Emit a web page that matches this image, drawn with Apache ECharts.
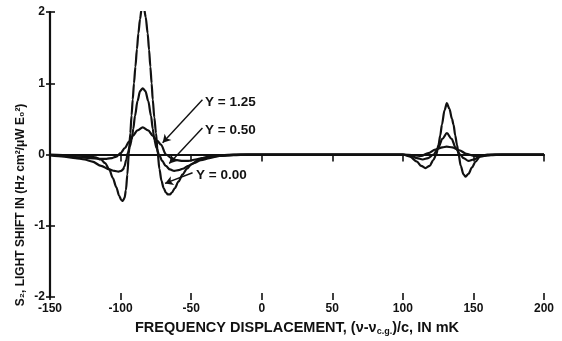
<!DOCTYPE html>
<html><head><meta charset="utf-8">
<script src="https://cdn.jsdelivr.net/npm/echarts@6/dist/echarts.min.js"></script>
<style>html,body{margin:0;padding:0;background:#fff}#c{width:562px;height:341px}</style>
</head><body><div id="c"></div>
<script>
// ---- data ----
const xTickLabels = ['-150','-100','-50','0','50','100','150','200'];
const yTickLabels = ['-2','-1','0','1','2'];

// Y = 0.00 curve
const y000X = [-150,-135,-125,-118,-114,-111,-108,-105.5,-103,-101,-99.5,-98.4,-97.2,-96.2,-95.2,-94.2,-93.1,-92.2,-91.4,-90.5,-89.5,-88.4,-87.4,-86.2,-85.2,-84.3,-83.3,-82.2,-80.8,-79.8,-78.9,-78.0,-77.2,-76.1,-74.9,-73.7,-72.5,-71,-69.5,-68,-66.5,-65,-63.5,-61.5,-59,-56,-53,-50,-46,-42,-36,-28,-20,0,95,
  100,105,110,113,116,119,121.5,123.7,125.3,126.5,127.7,129.5,131.2,133,134.8,135.9,137.1,138.3,139.5,141,143,144.5,146.5,149,151.5,155,160,200];
const y000Y = [0,-0.01,-0.02,-0.04,-0.07,-0.12,-0.21,-0.33,-0.46,-0.58,-0.64,-0.65,-0.61,-0.50,-0.28,0,0.30,0.55,0.77,1.00,1.23,1.48,1.70,1.90,2.03,2.07,2.04,1.93,1.70,1.47,1.23,1.00,0.77,0.52,0.30,0.02,-0.20,-0.37,-0.47,-0.53,-0.56,-0.56,-0.53,-0.47,-0.38,-0.28,-0.20,-0.14,-0.09,-0.05,-0.025,-0.01,0,0,0,
  0,-0.03,-0.10,-0.16,-0.19,-0.16,-0.08,0,0.14,0.27,0.42,0.62,0.72,0.64,0.50,0.42,0.27,0.14,0,-0.16,-0.28,-0.31,-0.27,-0.18,-0.10,-0.02,0,0];

// Y = 0.50 curve
const y050X = [-150,-140,-132,-125.6,-120,-113.8,-108,-104.4,-101.5,-99.6,-98.3,-97.3,-96,-94.9,-93.5,-92.1,-91,-89.8,-88,-86.2,-84.3,-82.4,-80.4,-78.4,-77.2,-76.1,-74.5,-72.8,-70.5,-68,-65,-62,-59,-56,-52,-48,-43,-37,-30,-20,-10,95,
  100,106,110,114,118,121.8,125,128,131.2,134.5,137.5,140.6,143,146.5,150,155,160,165,200];
const y050Y = [-0.01,-0.03,-0.05,-0.07,-0.10,-0.16,-0.21,-0.23,-0.24,-0.23,-0.21,-0.17,-0.08,0.02,0.11,0.21,0.36,0.54,0.75,0.89,0.93,0.89,0.75,0.54,0.36,0.21,0.09,0,-0.09,-0.16,-0.21,-0.23,-0.22,-0.20,-0.16,-0.12,-0.08,-0.05,-0.02,-0.01,0,0,
  0,-0.02,-0.05,-0.07,-0.05,0,0.09,0.22,0.30,0.22,0.09,0,-0.05,-0.09,-0.07,-0.03,-0.01,0,0];

// Y = 1.25 curve
const y125X = [-150,-140,-130,-122,-115,-110,-106,-103,-100,-97,-94,-91.4,-88,-84.3,-80.5,-77,-74,-71.4,-67.8,-64,-60,-56,-52,-47,-42,-35,-25,-15,95,
  100,108,113,118,123,128,131,135,140,145,150,155,162,170,200];
const y125Y = [-0.01,-0.02,-0.04,-0.05,-0.06,-0.06,-0.05,-0.03,0.02,0.09,0.18,0.26,0.34,0.38,0.34,0.26,0.19,0.14,0,-0.05,-0.08,-0.09,-0.09,-0.07,-0.05,-0.03,-0.01,0,0,
  0,-0.01,-0.02,0.02,0.07,0.10,0.11,0.10,0.06,0.01,-0.02,-0.02,-0.01,0,0];

// annotation arrows (data coords)
const arrowLabels = ['Y = 1.25','Y = 0.50','Y = 0.00'];
const arrowFrom = [[-42.0,0.769],[-42.0,0.373],[-49.0,-0.256]];
const arrowTo   = [[-70.2,0.164],[-65.5,-0.126],[-68.5,-0.406]];

// ---- chart ----
const FONT = 'Liberation Sans';
const INK = '#111';
const zip = (xs, ys) => xs.map((x, i) => [x, ys[i]]);
const chart = echarts.init(document.getElementById('c'), null, {renderer: 'canvas'});

const xBase = {type: 'value', min: -150, max: 200, interval: 50, splitLine: {show: false}, gridIndex: 0};
const yBase = {type: 'value', min: -2, max: 2, interval: 1, splitLine: {show: false}, gridIndex: 0};

function curve(name, xs, ys, extra) {
  return Object.assign({
    name, type: 'line', data: zip(xs, ys), xAxisIndex: 0, yAxisIndex: 0,
    showSymbol: false, symbol: 'none', smooth: 0.3, smoothMonotone: 'x',
    lineStyle: {color: INK, width: 2.2}, z: 3, silent: true
  }, extra || {});
}

chart.setOption({
  animation: false,
  backgroundColor: '#fff',
  grid: {left: 50, right: 18, top: 12, bottom: 43, containLabel: false},
  xAxis: [
    Object.assign({}, xBase, {
      position: 'bottom',
      axisLine: {show: false, onZero: false},
      axisTick: {show: true, inside: true, length: 4, lineStyle: {color: INK, width: 1.6}},
      axisLabel: {show: true, margin: 6, color: INK, fontFamily: FONT, fontSize: 12, fontWeight: 'bold',
        formatter: v => xTickLabels[Math.round((v + 150) / 50)]},
      name: 'FREQUENCY DISPLACEMENT, (ν-ν{sub|c.g.})/c, IN mK',
      nameLocation: 'middle', nameGap: 23,
      nameTextStyle: {color: INK, fontFamily: FONT, fontSize: 14.5, fontWeight: 'bold',
        rich: {sub: {fontSize: 9, fontWeight: 'bold', fontFamily: FONT, color: INK, padding: [7, 0, 0, 0]}}}
    }),
    Object.assign({}, xBase, {
      position: 'bottom',
      axisLine: {show: false, onZero: false},
      axisTick: {show: true, inside: false, length: 3, lineStyle: {color: INK, width: 1.6}},
      axisLabel: {show: false}
    }),
    Object.assign({}, xBase, {
      position: 'bottom',
      axisLine: {show: true, onZero: true, lineStyle: {color: INK, width: 2.2}},
      axisTick: {show: true, inside: false, length: 7, lineStyle: {color: INK, width: 1.6}},
      axisLabel: {show: false}
    })
  ],
  yAxis: [
    Object.assign({}, yBase, {
      position: 'left',
      axisLine: {show: true, onZero: false, lineStyle: {color: INK, width: 2.2}},
      axisTick: {show: true, inside: true, length: 5, lineStyle: {color: INK, width: 1.6}},
      axisLabel: {show: true, margin: 5, color: INK, fontFamily: FONT, fontSize: 12, fontWeight: 'bold',
        formatter: v => yTickLabels[Math.round(v + 2)]}
    }),
    Object.assign({}, yBase, {
      position: 'left',
      axisLine: {show: false, onZero: false},
      axisTick: {show: true, inside: false, length: 4, lineStyle: {color: INK, width: 1.6}},
      axisLabel: {show: false}
    })
  ],
  series: [
    curve('Y = 0.00', y000X, y000Y),
    curve('Y = 0.50', y050X, y050Y),
    curve('Y = 1.25', y125X, y125Y, {
      markLine: {
        silent: true, symbol: ['none', 'arrow'], symbolSize: [7, 8],
        label: {show: false},
        lineStyle: {color: INK, width: 1.4, type: 'solid'},
        data: arrowFrom.map((f, i) => [{coord: f, name: arrowLabels[i]}, {coord: arrowTo[i]}])
      }
    })
  ],
  graphic: [
    {type: 'text', left: 205, top: 95, style: {text: arrowLabels[0], fill: INK, font: 'bold 13.5px "' + FONT + '"'}},
    {type: 'text', left: 205, top: 123, style: {text: arrowLabels[1], fill: INK, font: 'bold 13.5px "' + FONT + '"'}},
    {type: 'text', left: 196, top: 168, style: {text: arrowLabels[2], fill: INK, font: 'bold 13.5px "' + FONT + '"'}},
    {type: 'text', x: 21, y: 205, rotation: Math.PI / 2,
      style: {text: 'S₂, LIGHT SHIFT IN (Hz cm²/μW E₀²)', fill: INK, font: 'bold 12px "' + FONT + '"',
        align: 'center', verticalAlign: 'middle'}}
  ]
});
</script>
</body></html>
